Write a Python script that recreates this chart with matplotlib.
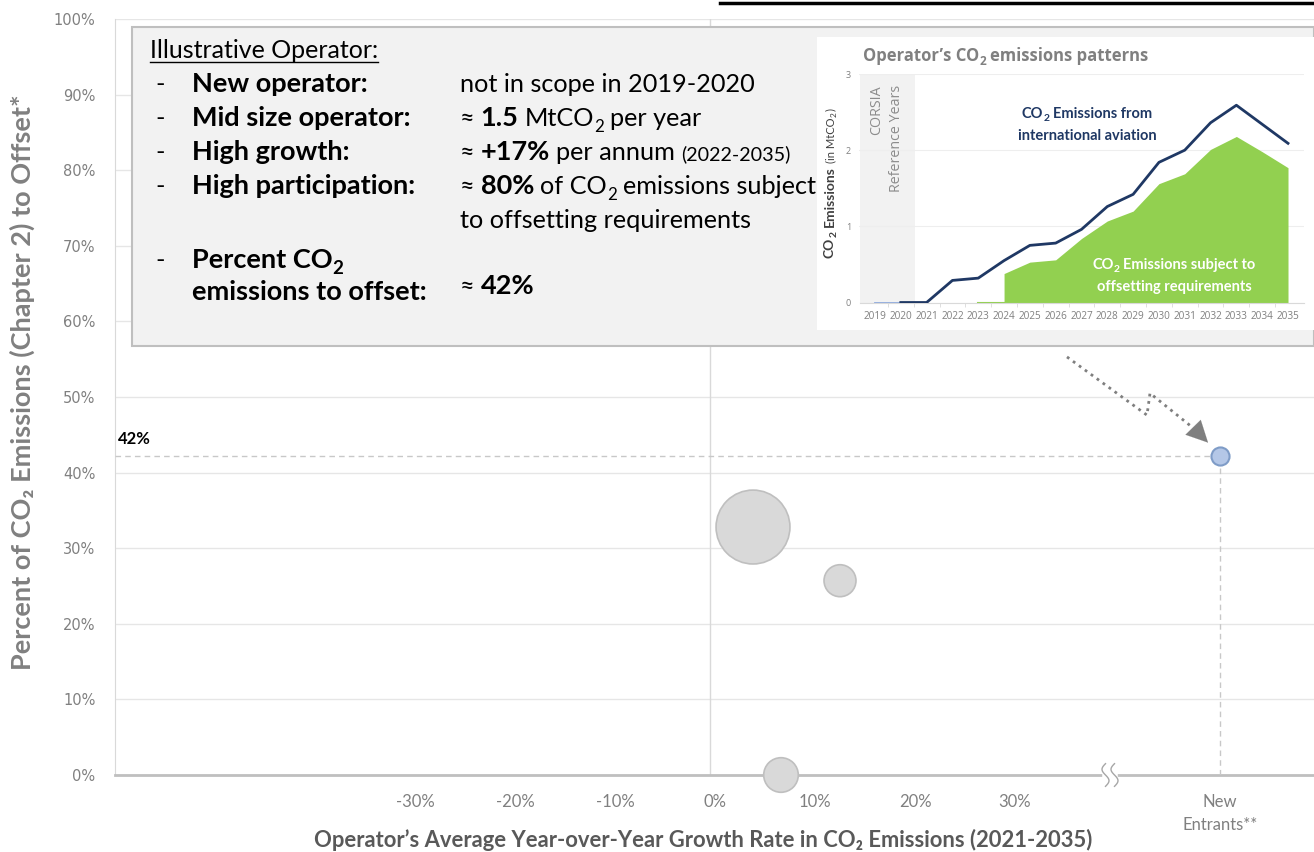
import numpy as np
import matplotlib.pyplot as plt
from matplotlib.patches import Rectangle
from matplotlib.lines import Line2D
from matplotlib.transforms import ScaledTranslation

# main chart data
growth = [4.3, 13.0, 7.1]          # avg YoY growth, %
offset_share = [32.8, 25.7, 0.0]   # % of CO2 to offset
bubble_size = [2830, 530, 620]
new_x, new_y = 51.0, 42.2          # "New Entrants" slot, illustrative operator
x_ticks = [-30, -20, -10, 0, 10, 20, 30]
y_ticks = [0, 10, 20, 30, 40, 50, 60, 70, 80, 90, 100]

# inset data
years = [2019, 2020, 2021, 2022, 2023, 2024, 2025, 2026, 2027,
         2028, 2029, 2030, 2031, 2032, 2033, 2034, 2035]
total = [0, 0, 0, 0.29, 0.32, 0.55, 0.75, 0.78, 0.96,
         1.26, 1.42, 1.84, 2.00, 2.36, 2.59, 2.34, 2.09]
subject = [0, 0, 0, 0, 0, 0.38, 0.53, 0.56, 0.84,
           1.07, 1.20, 1.56, 1.69, 2.01, 2.18, 1.98, 1.77]

W, H = 1314, 852
fig = plt.figure(figsize=(W / 100, H / 100), dpi=100)
R = fig.canvas.get_renderer()
GREY = '#808080'
NAVY = '#1f3864'


def fx(x):
    return x / W


def fy(y):
    return 1 - y / H


def rich(x, y, parts, color='black', family='Lato', ha='left', z=6):
    # parts: (text, size, bold, dy) ; leading/trailing spaces -> gap
    items, cur = [], 0
    for s, size, bold, dy in parts:
        sp = size * 100 / 72 * 0.24
        if s.startswith(' '):
            cur += sp
        t = fig.text(0, 0, s.strip(), fontsize=size, family=family,
                     fontweight='bold' if bold else 'normal', color=color,
                     va='baseline', ha='left', zorder=z)
        items.append((t, cur, dy))
        cur += t.get_window_extent(R).width
        if s.endswith(' '):
            cur += sp
    off = -cur / 2 if ha == 'center' else 0
    for t, c, dy in items:
        t.set_position((fx(x + off + c), fy(y + dy)))
    return cur


# ---- main axes
ax = fig.add_axes([fx(115), fy(775), 1 - fx(115), fy(19) - fy(775)])
ax.set_xlim(-59.5, 60.4)
ax.set_ylim(0, 100)
for s in ['top', 'right']:
    ax.spines[s].set_visible(False)
ax.spines['left'].set_color('#d9d9d9')
ax.spines['bottom'].set_color('#bfbfbf')
ax.spines['bottom'].set_linewidth(2)
ax.set_yticks(y_ticks)
ax.set_yticklabels([f'{v}%' for v in y_ticks], family='DejaVu Sans',
                   fontsize=10.5, color=GREY)
ax.set_xticks(x_ticks + [new_x])
ax.set_xticklabels([f'{v}%' for v in x_ticks] + ['New\nEntrants**'],
                   family='Lato', fontsize=12, color=GREY, linespacing=1.5)
ax.tick_params(length=0)
ax.tick_params(axis='y', pad=14)
ax.tick_params(axis='x', pad=14)
shift = ScaledTranslation(0.05, 0, fig.dpi_scale_trans)
for lbl in ax.get_xticklabels()[:-1]:
    lbl.set_transform(lbl.get_transform() + shift)
ax.grid(axis='y', color='#e6e6e6', lw=1)
ax.set_axisbelow(True)
ax.axvline(0, color='#d9d9d9', lw=1, zorder=1)

ax.scatter(growth, offset_share, s=bubble_size, color='#d9d9d9',
           edgecolor='#bfbfbf', lw=1.2, zorder=4, clip_on=False)
ax.scatter([new_x], [new_y], s=170, color='#b4c7e7', edgecolor='#7f9cc7',
           lw=1.5, zorder=5)
ax.plot([ax.get_xlim()[0], new_x], [new_y, new_y], ls=(0, (4, 3)),
        color='#c8c8c8', lw=1, zorder=3)
ax.plot([new_x, new_x], [0, new_y], ls=(0, (4, 3)), color='#c8c8c8',
        lw=1, zorder=3)
ax.text(ax.get_xlim()[0] + 0.3, new_y + 1.6, f'{new_y:.0f}%',
        family='Lato', fontweight='bold', fontsize=12, color='black')

# axis break marks
t = np.linspace(-1, 1, 30)
ax.plot([39.5, 40.5], [0, 0], color='white', lw=4, zorder=3, clip_on=False)
for c in (-0.45, 0.45):
    ax.plot(40 + c - 0.35 * np.sin(np.pi * t), 1.5 * t, color='#a6a6a6',
            lw=1, zorder=4, clip_on=False)

# dotted connector from the inset down to the new entrant point
path_x = [35.7, 43.7, 44.0, 48.6]
path_y = [55.3, 47.6, 50.5, 45.6]
ax.plot(path_x, path_y, ls=':', color='#7f7f7f', lw=2, zorder=3)
ax.annotate('', xy=(new_x - 1.0, new_y + 1.5), xytext=(path_x[-1], path_y[-1]),
            arrowprops=dict(arrowstyle='-|>,head_length=0.9,head_width=0.45',
                            mutation_scale=17, color='#7f7f7f', lw=0.1),
            zorder=3)

# axis labels
fig.text(fx(22), fy(382), 'Percent of CO\u2082 Emissions (Chapter 2) to Offset*',
         rotation=90, ha='center', va='center', fontsize=19.5,
         fontweight='bold', color=GREY, family=['Lato', 'DejaVu Sans'])
fig.text(fx(703), fy(840),
         'Operator\u2019s Average Year-over-Year Growth Rate in CO\u2082 Emissions (2021-2035)',
         ha='center', va='center', fontsize=15.8, fontweight='bold',
         color='#595959', family=['Lato', 'DejaVu Sans'])

# cut-off heading underline at the very top
fig.add_artist(Line2D([fx(720), 1], [fy(3), fy(3)], color='black', lw=2.5))

# ---- grey description box
fig.add_artist(Rectangle((fx(132), fy(346)), 1 - fx(132), fy(27) - fy(346),
                         transform=fig.transFigure, facecolor='#f2f2f2',
                         edgecolor='#bfbfbf', lw=1.5, zorder=2))
fb, fs = 19.5, 18.2
w = rich(150, 58, [('Illustrative Operator:', 18, False, 0)])
fig.add_artist(Line2D([fx(150), fx(150 + w)], [fy(62), fy(62)],
                      color='black', lw=1, zorder=6))
rows = [
    (92, 'New operator:', [('not in scope in 2019-2020', fs, False, 0)]),
    (126, 'Mid size operator:', [('\u2248 ', fs, False, 0), ('1.5', fb, True, 0),
                                 (' MtCO', fs, False, 0), ('2', fs - 6, False, 6),
                                 (' per year', fs, False, 0)]),
    (160, 'High growth:', [('\u2248 ', fs, False, 0), ('+17%', fb, True, 0),
                           (' per annum ', fs, False, 0),
                           ('(2022-2035)', fs - 4, False, 0)]),
    (194, 'High participation:', [('\u2248 ', fs, False, 0), ('80%', fb, True, 0),
                                  (' of CO', fs, False, 0), ('2', fs - 6, False, 6),
                                  (' emissions subject', fs, False, 0)]),
]
for y, lab, val in rows:
    rich(155, y, [('-', fs, False, 0)])
    rich(192, y, [(lab, fb, True, 0)])
    rich(460, y, val)
rich(460, 228, [('to offsetting requirements', fs, False, 0)])
rich(155, 268, [('-', fs, False, 0)])
rich(192, 268, [('Percent CO', fb, True, 0), ('2', fb - 6, True, 6)])
rich(192, 300, [('emissions to offset:', fb, True, 0)])
rich(460, 294, [('\u2248 ', fs, False, 0), ('42%', fb, True, 0)])

# ---- inset chart
fig.add_artist(Rectangle((fx(817), fy(330)), 1 - fx(817), fy(37) - fy(330),
                         transform=fig.transFigure, facecolor='white',
                         edgecolor='none', zorder=3))
ix0 = years[0] - 0.6
ix1 = years[-1] + 0.6
axi = fig.add_axes([fx(859.5), fy(302.5), fx(1303.5) - fx(859.5),
                    fy(74) - fy(302.5)], zorder=4)
axi.set_facecolor('none')
axi.set_xlim(ix0, ix1)
axi.set_ylim(0, 3)
for s in ['top', 'right', 'left']:
    axi.spines[s].set_visible(False)
axi.spines['bottom'].set_color('#d9d9d9')
axi.axvspan(ix0, 2020.55, color='#f2f2f2', lw=0, zorder=0)
axi.set_yticks([0, 1, 2, 3])
axi.set_yticklabels(['0', '1', '2', '3'], fontsize=6.5, color=GREY,
                    family='Open Sans')
axi.set_xticks(years)
axi.set_xticklabels([str(v) for v in years], fontsize=7.2, color=GREY,
                    family='Open Sans')
axi.set_xticks(np.array(years[:-1]) + 0.5, minor=True)
axi.tick_params(axis='both', which='major', length=0, pad=6)
axi.tick_params(axis='x', which='minor', length=3, color='#d9d9d9')
axi.grid(axis='y', color='#eeeeee', lw=0.8)
axi.set_axisbelow(True)

axi.fill_between(years[5:], subject[5:], color='#92d050', lw=0, zorder=2)
axi.plot(years[4:6], np.zeros(2), color='#92d050', lw=1.5, zorder=2)
axi.plot(years[:2], total[:2], color='#8faadc', lw=2, zorder=3)
axi.plot(years[1:], total[1:], color=NAVY, lw=2, zorder=3)

fig.text(fx(877), fy(85), 'CORSIA', rotation=90, ha='center', va='top',
         fontsize=10.3, color='#8c8c8c', family='Open Sans', zorder=6)
fig.text(fx(897), fy(85), 'Reference Years', rotation=90, ha='center',
         va='top', fontsize=10.3, color='#8c8c8c', family='Open Sans', zorder=6)

rich(863, 61, [('Operator\u2019s CO', 12, True, 0), ('2', 8.5, True, 4),
               (' emissions patterns', 12, True, 0)],
     color=GREY, family='Open Sans')
rich(1087, 118, [('CO', 10.5, True, 0), ('2', 7.5, True, 3),
                 (' Emissions from', 10.5, True, 0)], color=NAVY, ha='center')
rich(1087, 140, [('international aviation', 10.5, True, 0)], color=NAVY,
     ha='center')
rich(1174, 269, [('CO', 10.5, True, 0), ('2', 7.5, True, 3),
                 (' Emissions subject to', 10.5, True, 0)], color='white',
     ha='center')
rich(1174, 291, [('offsetting requirements', 10.5, True, 0)], color='white',
     ha='center')

# rotated inset y label
lab_parts = [('CO', 10, True), ('2', 7.5, True), (' Emissions ', 10, True),
             ('(in MtCO', 8, False), ('2', 6, False), (')', 8, False)]
cy = 258
for s, size, bold in lab_parts:
    sp = size * 100 / 72 * 0.24
    if s.startswith(' '):
        cy -= sp
    dx = 3 if s == '2' else 0
    tt = fig.text(0, 0, s.strip(), fontsize=size, family='Lato',
                  fontweight='bold' if bold else 'normal', color='#404040',
                  va='baseline', ha='left', zorder=6)
    wpx = tt.get_window_extent(R).width
    tt.set_rotation(90)
    tt.set_rotation_mode('anchor')
    tt.set_position((fx(834 + dx), fy(cy)))
    cy -= wpx + 0.5
    if s.endswith(' '):
        cy -= sp

fig.savefig('out.png', dpi=100)
